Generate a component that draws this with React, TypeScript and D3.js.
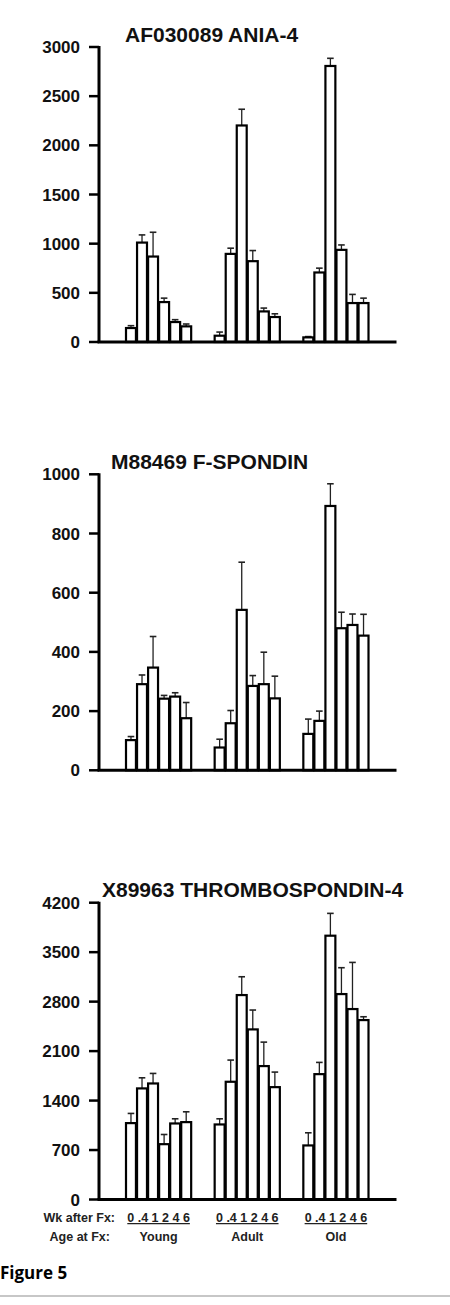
import React from "react";
import * as d3 from "d3";

// ---- data ----
const groups = ["Young", "Adult", "Old"];
const weeks = ["0", ".4", "1", "2", "4", "6"];

const aniaTitle = "AF030089 ANIA-4";
const aniaTicks = [0, 500, 1000, 1500, 2000, 2500, 3000];
const aniaMean = [
  [142, 1011, 869, 406, 203, 159],
  [64, 896, 2202, 822, 311, 254],
  [47, 707, 2807, 937, 396, 396],
];
const aniaSem = [
  [24, 78, 247, 40, 24, 24],
  [37, 58, 165, 108, 34, 33],
  [8, 44, 78, 50, 88, 50],
];

const spondinTitle = "M88469 F-SPONDIN";
const spondinTicks = [0, 200, 400, 600, 800, 1000];
const spondinMean = [
  [102, 291, 347, 242, 249, 176],
  [77, 159, 542, 285, 291, 243],
  [123, 167, 893, 480, 491, 455],
];
const spondinSem = [
  [12, 31, 105, 11, 13, 53],
  [28, 43, 161, 35, 108, 75],
  [50, 33, 75, 54, 37, 72],
];

const thrombTitle = "X89963 THROMBOSPONDIN-4";
const thrombTicks = [0, 700, 1400, 2100, 2800, 3500, 4200];
const thrombMean = [
  [1081, 1572, 1642, 783, 1076, 1095],
  [1062, 1666, 2893, 2407, 1888, 1590],
  [765, 1774, 3733, 2907, 2695, 2539],
];
const thrombSem = [
  [137, 150, 142, 137, 66, 146],
  [80, 307, 259, 274, 339, 213],
  [179, 166, 316, 373, 660, 47],
];

const panels = [
  { title: aniaTitle, ticks: aniaTicks, mean: aniaMean, sem: aniaSem, top: 47, bottom: 342, titleX: 125, titleY: 42.3 },
  { title: spondinTitle, ticks: spondinTicks, mean: spondinMean, sem: spondinSem, top: 474.3, bottom: 770.3, titleX: 111, titleY: 469.3 },
  { title: thrombTitle, ticks: thrombTicks, mean: thrombMean, sem: thrombSem, top: 902.7, bottom: 1199.5, titleX: 102, titleY: 897.3 },
];

const AXIS_X = 99;
const AXIS_END = 396.5;
const FONT = "'Liberation Sans', Arial, Helvetica, sans-serif";

const xGroup = d3.scaleBand<string>().domain(groups).range([126, 368.5]).paddingInner(0.265).paddingOuter(0);
const xBar = d3.scaleBand<string>().domain(weeks).range([0, xGroup.bandwidth()]).paddingInner(0.1).paddingOuter(0);

function Panel({ p }: { p: (typeof panels)[number] }) {
  const maxV = p.ticks[p.ticks.length - 1];
  const y = d3.scaleLinear().domain([0, maxV]).range([p.bottom, p.top]);
  const bw = xBar.bandwidth();
  return (
    <g>
      <text x={p.titleX} y={p.titleY} fontFamily={FONT} fontWeight="bold" fontSize={21} fill="#111">
        {p.title}
      </text>
      {/* bars */}
      {groups.map((g, gi) =>
        weeks.map((w, wi) => {
          const v = p.mean[gi][wi];
          const e = p.sem[gi][wi];
          const x0 = (xGroup(g) as number) + (xBar(w) as number);
          const cx = x0 + bw / 2;
          return (
            <g key={g + w}>
              <line x1={cx} x2={cx} y1={y(v)} y2={y(v + e)} stroke="#222" strokeWidth={1.3} />
              <line x1={cx - 3.3} x2={cx + 3.3} y1={y(v + e)} y2={y(v + e)} stroke="#222" strokeWidth={1.6} />
              <rect x={x0} y={y(v)} width={bw} height={p.bottom - y(v)} fill="#fff" stroke="#000" strokeWidth={2.2} />
            </g>
          );
        })
      )}
      {/* y axis */}
      <line x1={AXIS_X} x2={AXIS_X} y1={p.top - 1} y2={p.bottom} stroke="#000" strokeWidth={3} />
      {p.ticks.map((t) => (
        <g key={t}>
          <line x1={AXIS_X - 10} x2={AXIS_X} y1={y(t)} y2={y(t)} stroke="#000" strokeWidth={2.5} />
          <text x={80} y={y(t)} dy="0.36em" textAnchor="end" fontFamily={FONT} fontWeight="bold" fontSize={17} fill="#111">
            {t}
          </text>
        </g>
      ))}
      {/* x axis */}
      <line x1={AXIS_X - 1.5} x2={AXIS_END} y1={p.bottom} y2={p.bottom} stroke="#000" strokeWidth={3} />
    </g>
  );
}

export default function App() {
  return (
    <svg width={450} height={1305} style={{ position: "absolute", left: 0, top: 0, background: "#fff" }}>
      <rect x={0} y={0} width={450} height={1305} fill="#fff" />
      {panels.map((p) => (
        <Panel key={p.title} p={p} />
      ))}
      <text x={115} y={1222} textAnchor="end" fontFamily={FONT} fontWeight="bold" fontSize={12.5} fill="#222">
        Wk after Fx:
      </text>
      <text x={110} y={1241} textAnchor="end" fontFamily={FONT} fontWeight="bold" fontSize={12.5} fill="#222">
        Age at Fx:
      </text>
      {groups.map((g) => {
        const cx = (xGroup(g) as number) + xGroup.bandwidth() / 2;
        return (
          <g key={g}>
            <text x={cx} y={1222} textAnchor="middle" fontFamily={FONT} fontWeight="bold" fontSize={12.5} fill="#222" textDecoration="underline">
              {weeks.join(" ")}
            </text>
            <text x={cx} y={1241} textAnchor="middle" fontFamily={FONT} fontWeight="bold" fontSize={12.5} fill="#222">
              {g}
            </text>
          </g>
        );
      })}
      <text x={0} y={1279} fontFamily="'Open Sans', sans-serif" fontWeight="bold" fontSize={17} fill="#000">
        Figure 5
      </text>
      <line x1={0} x2={450} y1={1296} y2={1296} stroke="#b5b5b5" strokeWidth={1.5} />
    </svg>
  );
}
